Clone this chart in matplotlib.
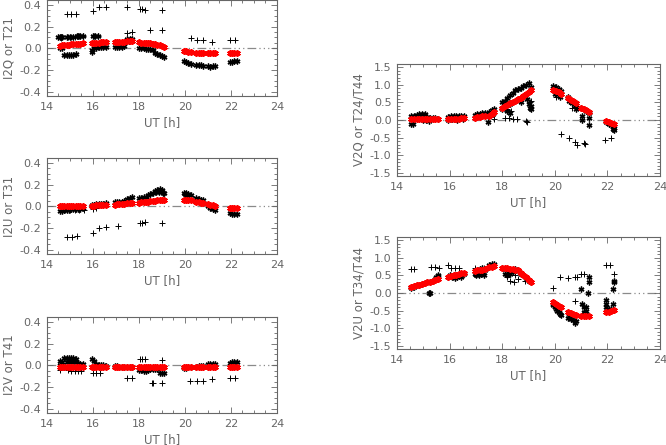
import matplotlib
matplotlib.use("Agg")
import matplotlib.pyplot as plt
from matplotlib.ticker import MultipleLocator, FormatStrFormatter

# ---------------- data ----------------
ut = [14.55, 14.65, 14.75, 14.85, 14.95, 15.05, 15.15, 15.25, 15.35, 15.45, 15.55,
      15.95, 16.05, 16.15, 16.25, 16.35, 16.45, 16.55,
      16.95, 17.05, 17.15, 17.25, 17.35,
      17.5, 17.6, 17.7,
      18.0, 18.1, 18.2, 18.3, 18.4, 18.5, 18.6,
      18.7, 18.8, 18.9, 19.0, 19.1,
      19.95, 20.05, 20.15, 20.25,
      20.5, 20.6, 20.7, 20.8,
      21.0, 21.1, 21.2, 21.3,
      21.95, 22.05, 22.15, 22.25]

# I2Q / T21
i2q_model = [0.024, 0.026, 0.028, 0.031, 0.033, 0.035, 0.037, 0.039, 0.041, 0.043, 0.045,
             0.05, 0.051, 0.052, 0.053, 0.054, 0.054, 0.055,
             0.058, 0.059, 0.06, 0.06, 0.061,
             0.068, 0.07, 0.07,
             0.055, 0.053, 0.051, 0.049, 0.047, 0.045, 0.042,
             0.036, 0.031, 0.026, 0.02, 0.014,
             -0.025, -0.029, -0.033, -0.036,
             -0.044, -0.046, -0.047, -0.047,
             -0.047, -0.047, -0.046, -0.045,
             -0.042, -0.041, -0.04, -0.039]
i2q_obs = [0.0, 0.005, -0.06, -0.065, -0.062, -0.06, -0.058, -0.055, 0.11, 0.11, 0.11,
           -0.03, 0.0, 0.005, 0.008, 0.01, 0.01, 0.012,
           0.015, 0.015, 0.016, 0.016, 0.017,
           0.085, 0.09, 0.09,
           0.005, 0.0, 0.0, -0.005, -0.01, -0.01, -0.015,
           -0.045, -0.055, -0.065, -0.075, -0.08,
           -0.115, -0.125, -0.135, -0.145,
           -0.15, -0.155, -0.157, -0.16,
           -0.168, -0.17, -0.165, -0.16,
           -0.13, -0.125, -0.12, -0.115]
i2q_xtra_x = [14.5, 14.55, 14.6, 14.65, 14.85, 15.0, 15.15, 15.3, 16.0, 16.1, 16.2, 17.55, 17.65, 15.95]
i2q_xtra_y = [0.1, 0.1, 0.105, 0.1, 0.105, 0.105, 0.105, 0.11, 0.115, 0.115, 0.115, 0.07, 0.075, -0.02]
i2q_plus_x = [14.86, 15.04, 15.26, 15.99, 16.26, 16.57, 17.49, 18.04, 18.15, 18.26, 18.99,
              17.5, 17.68, 18.5, 19.01, 20.25, 20.54, 20.8, 21.17, 21.96, 22.19,
              14.6, 14.9, 15.05, 15.2, 15.4, 15.55, 16.05, 16.2]
i2q_plus_y = [0.32, 0.32, 0.32, 0.34, 0.38, 0.38, 0.38, 0.36, 0.36, 0.355, 0.35,
              0.145, 0.15, 0.165, 0.165, 0.095, 0.08, 0.08, 0.055, 0.075, 0.075,
              0.095, 0.105, 0.105, 0.105, 0.11, 0.11, 0.115, 0.115]

# I2U / T31
i2u_model = [0.0, 0.0, 0.0, 0.0, 0.0, 0.001, 0.001, 0.001, 0.002, 0.002, 0.002,
             0.004, 0.006, 0.008, 0.009, 0.01, 0.011, 0.012,
             0.016, 0.017, 0.018, 0.019, 0.02,
             0.026, 0.027, 0.028,
             0.034, 0.036, 0.038, 0.04, 0.042, 0.044, 0.046,
             0.052, 0.055, 0.058, 0.06, 0.06,
             0.06, 0.058, 0.056, 0.054,
             0.042, 0.038, 0.034, 0.03,
             0.02, 0.014, 0.008, 0.003,
             -0.012, -0.013, -0.014, -0.015]
i2u_obs = [-0.045, -0.045, -0.035, -0.03, -0.03, -0.028, -0.028, -0.025, -0.025, -0.022, -0.02,
           0.01, 0.015, 0.018, 0.02, 0.022, 0.025, 0.028,
           0.035, 0.038, 0.04, 0.042, 0.045,
           0.07, 0.08, 0.088,
           0.075, 0.08, 0.085, 0.09, 0.1, 0.11, 0.125,
           0.14, 0.15, 0.155, 0.15, 0.125,
           0.125, 0.118, 0.11, 0.1,
           0.075, 0.07, 0.062, 0.055,
           0.0, -0.012, -0.025, -0.035,
           -0.065, -0.068, -0.07, -0.072]
i2u_xtra_x = [18.75, 18.85, 18.95, 19.05, 20.0, 20.1]
i2u_xtra_y = [0.13, 0.135, 0.14, 0.12, 0.11, 0.105]
i2u_plus_x = [14.86, 15.07, 15.29, 15.99, 16.26, 16.57, 17.1, 18.04, 18.15, 18.26, 18.99,
              14.8, 15.0, 15.2, 15.4, 15.6, 16.0, 16.15]
i2u_plus_y = [-0.28, -0.28, -0.275, -0.25, -0.2, -0.195, -0.185, -0.15, -0.15, -0.145, -0.15,
              -0.035, -0.035, -0.035, -0.03, -0.03, -0.025, -0.02]

# I2V / T41
i2v_model = [-0.015, -0.015, -0.016, -0.016, -0.016, -0.016, -0.017, -0.017, -0.017, -0.017, -0.017,
             -0.017, -0.017, -0.017, -0.017, -0.017, -0.017, -0.017,
             -0.018, -0.018, -0.018, -0.018, -0.018,
             -0.018, -0.018, -0.018,
             -0.018, -0.018, -0.018, -0.018, -0.018, -0.018, -0.018,
             -0.018, -0.018, -0.018, -0.018, -0.018,
             -0.018, -0.018, -0.018, -0.018,
             -0.018, -0.018, -0.018, -0.018,
             -0.017, -0.017, -0.017, -0.017,
             -0.016, -0.016, -0.016, -0.016]
i2v_obs = [0.035, 0.03, 0.065, 0.07, 0.07, 0.068, 0.065, 0.06, 0.02, 0.015, 0.01,
           0.055, 0.04, 0.01, 0.005, 0.0, 0.0, -0.005,
           -0.01, -0.01, -0.012, -0.012, -0.012,
           -0.015, -0.015, -0.015,
           -0.045, -0.048, -0.05, -0.05, -0.045, -0.03, -0.03,
           -0.03, -0.035, -0.07, -0.075, -0.075,
           -0.025, -0.022, -0.02, -0.02,
           -0.012, -0.01, -0.01, -0.01,
           0.012, 0.015, 0.015, 0.012,
           0.025, 0.03, 0.03, 0.028]
i2v_xtra_x = [14.55, 14.65, 14.85, 14.95, 15.05, 15.15, 15.25]
i2v_xtra_y = [0.0, 0.0, 0.03, 0.035, 0.03, 0.035, 0.03]
i2v_plus_x = [14.55, 14.9, 15.05, 15.2, 15.35, 15.5, 16.0, 16.15, 16.3, 17.46, 17.68,
              18.05, 18.15, 18.25, 18.55, 18.62, 18.99, 18.99, 20.22, 20.54, 20.8,
              21.17, 21.96, 22.19]
i2v_plus_y = [-0.045, -0.045, -0.05, -0.05, -0.05, -0.05, -0.07, -0.07, -0.07, -0.12, -0.12,
              0.055, 0.055, 0.055, -0.16, -0.16, 0.05, -0.165, -0.145, -0.145, -0.145,
              -0.13, -0.12, -0.115]

# V2Q / T24/T44
v2q_model = [0.02, 0.025, 0.03, 0.03, 0.03, 0.03, 0.03, 0.025, 0.025, 0.02, 0.02,
             0.02, 0.025, 0.03, 0.035, 0.04, 0.045, 0.05,
             0.07, 0.08, 0.09, 0.1, 0.11,
             0.1, 0.17, 0.24,
             0.35, 0.39, 0.43, 0.47, 0.51, 0.55, 0.59,
             0.63, 0.69, 0.75, 0.8, 0.84,
             0.86, 0.83, 0.79, 0.75,
             0.62, 0.58, 0.54, 0.49,
             0.34, 0.31, 0.27, 0.22,
             -0.04, -0.06, -0.08, -0.1]
v2q_obs = [0.1, 0.11, 0.15, 0.17, 0.17, 0.16, 0.08, 0.07, 0.06, 0.05, 0.04,
           0.08, 0.1, 0.1, 0.11, 0.11, 0.12, 0.12,
           0.15, 0.16, 0.18, 0.2, 0.21,
           0.22, 0.28, 0.3,
           0.5, 0.55, 0.62, 0.7, 0.78, 0.85, 0.88,
           0.92, 0.97, 1.0, 1.05, 0.95,
           0.97, 0.93, 0.88, 0.82,
           0.65, 0.58, 0.5, 0.42,
           0.33, 0.3, 0.26, 0.2,
           -0.06, -0.1, -0.15, -0.22]
v2q_xtra_x = [14.55, 14.6, 15.0, 15.1, 15.2, 15.95, 16.1, 16.3, 16.5, 17.45, 17.65,
              18.0, 18.1, 18.2, 18.3, 18.3, 18.6, 18.7, 18.95, 19.0, 19.05, 19.1, 19.1,
              20.0, 20.2, 20.55, 20.65, 20.75, 20.8, 21.05, 21.05, 21.3, 21.3, 22.2, 22.25]
v2q_xtra_y = [-0.1, -0.1, 0.0, 0.0, -0.02, 0.0, 0.02, 0.0, 0.02, -0.05, 0.18,
              0.3, 0.35, 0.25, 0.45, 0.2, 0.6, 0.5, 0.6, 0.45, 0.35, 0.4, 0.3,
              0.75, 0.65, 0.55, 0.48, 0.4, 0.3, 0.1, 0.0, 0.05, -0.13, -0.25, -0.27]
v2q_plus_x = [17.7, 18.1, 18.25, 18.4, 18.55, 18.9, 18.95, 20.25, 20.55, 20.75, 20.85,
              21.1, 21.15, 21.9, 22.15, 18.2, 18.35, 19.05, 19.1, 20.05, 20.65]
v2q_plus_y = [0.04, 0.05, 0.05, 0.04, 0.03, -0.03, -0.05, -0.4, -0.52, -0.62, -0.7,
              -0.66, -0.68, -0.56, -0.5, 0.3, 0.25, 0.5, 0.55, 0.65, 0.35]

# V2U / T34/T44
v2u_model = [0.18, 0.2, 0.22, 0.24, 0.26, 0.28, 0.3, 0.32, 0.34, 0.37, 0.4,
             0.46, 0.48, 0.5, 0.52, 0.54, 0.56, 0.58,
             0.63, 0.64, 0.65, 0.66, 0.67,
             0.73, 0.75, 0.76,
             0.72, 0.71, 0.7, 0.69, 0.67, 0.66, 0.64,
             0.58, 0.52, 0.45, 0.38, 0.31,
             -0.25, -0.3, -0.36, -0.41,
             -0.55, -0.57, -0.6, -0.62,
             -0.65, -0.65, -0.65, -0.65,
             -0.55, -0.53, -0.51, -0.49]
v2u_obs = [0.15, 0.17, 0.22, 0.24, 0.25, 0.27, 0.3, 0.32, 0.35, 0.4, 0.5,
           0.45, 0.47, 0.5, 0.52, 0.5, 0.52, 0.55,
           0.55, 0.6, 0.68, 0.7, 0.65,
           0.8, 0.83, 0.82,
           0.7, 0.68, 0.65, 0.62, 0.6, 0.68, 0.62,
           0.55, 0.5, 0.42, 0.35, 0.3,
           -0.35, -0.45, -0.55, -0.62,
           -0.7, -0.75, -0.78, -0.8,
           0.1, -0.55, -0.5, 0.3,
           -0.3, -0.45, -0.45, 0.3]
v2u_xtra_x = [15.23, 15.25, 15.5, 15.55, 16.0, 16.1, 16.2, 16.3, 16.45, 17.0, 17.1, 17.2, 17.3,
              18.1, 18.2, 18.3, 19.95, 20.0, 20.1, 20.2, 20.55, 20.65, 20.75,
              21.05, 21.1, 21.1, 21.15, 21.2, 21.25, 21.3,
              21.95, 21.95, 22.0, 22.1, 22.2, 22.2, 22.25]
v2u_xtra_y = [0.0, 0.0, 0.45, 0.48, 0.5, 0.45, 0.42, 0.45, 0.45, 0.5, 0.52, 0.55, 0.5,
              0.55, 0.52, 0.55, -0.3, -0.4, -0.5, -0.6, -0.65, -0.72, -0.85,
              -0.3, -0.4, -0.6, -0.6, -0.4, 0.0, 0.45,
              -0.2, -0.4, -0.5, -0.5, -0.3, 0.1, 0.35]
v2u_plus_x = [14.55, 14.65, 15.3, 15.45, 15.6, 15.95, 16.05, 16.2, 16.35, 16.95, 17.3,
              18.3, 18.45, 18.6, 18.85, 19.95, 20.2, 20.5, 20.75, 20.85, 20.75,
              21.0, 21.1, 21.95, 22.1, 22.25, 18.2, 18.5]
v2u_plus_y = [0.68, 0.68, 0.73, 0.73, 0.72, 0.79, 0.72, 0.7, 0.7, 0.72, 0.72,
              0.35, 0.3, 0.4, 0.35, 0.15, 0.46, 0.42, 0.45, 0.46, -0.22,
              0.55, 0.55, 0.8, 0.8, 0.55, 0.45, 0.5]

left_labels = ["I2Q or T21", "I2U or T31", "I2V or T41"]
right_labels = ["V2Q or T24/T44", "V2U or T34/T44"]
x_ticks = [14, 16, 18, 20, 22, 24]

# ---------------- figure ----------------
W, H = 666, 445
plt.rcParams["font.family"] = ["DejaVu Sans"]
fig = plt.figure(figsize=(W / 100, H / 100), dpi=100)
GRAY = "#666666"


def rect(left_px, top_px, right_px, bottom_px):
    return [left_px / W, 1 - bottom_px / H, (right_px - left_px) / W, (bottom_px - top_px) / H]


def panel(r, ylim, ymaj, ymin, ylab, model, obs, xx, xy, px, py):
    ax = fig.add_axes(r)
    ax.set_xlim(14, 24)
    ax.set_ylim(*ylim)
    ax.plot([14, 24], [0, 0], color="#8a8a8a", lw=0.9,
            dashes=(7, 2.5, 1, 2.5, 1, 2.5, 1, 2.5), zorder=1)
    ast = (6, 2, 0)
    ax.plot(px, py, ls="none", marker="+", ms=4.5, mew=0.7, color="black", zorder=2)
    ax.plot(ut, obs, ls="none", marker=ast, ms=4.2, mew=1.0, color="black", zorder=3)
    ax.plot(xx, xy, ls="none", marker=ast, ms=4.2, mew=1.0, color="black", zorder=3)
    ax.plot(ut, model, ls="none", marker=ast, ms=4.6, mew=1.3, color="#ff0000", zorder=4)
    ax.set_xticks(x_ticks)
    ax.xaxis.set_minor_locator(MultipleLocator(0.5))
    ax.yaxis.set_major_locator(MultipleLocator(ymaj))
    ax.yaxis.set_minor_locator(MultipleLocator(ymin))
    ax.yaxis.set_major_formatter(FormatStrFormatter("%.1f"))
    ax.tick_params(which="both", direction="in", top=True, right=True,
                   color=GRAY, labelcolor=GRAY, labelsize=8, width=0.6)
    ax.tick_params(which="major", length=4, pad=4)
    ax.tick_params(which="minor", length=2)
    for s in ax.spines.values():
        s.set_color(GRAY)
        s.set_linewidth(0.8)
    ax.set_xlabel("UT [h]", color=GRAY, fontsize=8.5, labelpad=3)
    ax.set_ylabel(ylab, color=GRAY, fontsize=8.5, labelpad=3)
    return ax


lylim = (-0.44, 0.445)
panel(rect(47, 0, 277, 96), lylim, 0.2, 0.05, left_labels[0],
      i2q_model, i2q_obs, i2q_xtra_x, i2q_xtra_y, i2q_plus_x, i2q_plus_y)
panel(rect(47, 158, 277, 254), lylim, 0.2, 0.05, left_labels[1],
      i2u_model, i2u_obs, i2u_xtra_x, i2u_xtra_y, i2u_plus_x, i2u_plus_y)
panel(rect(47, 317, 277, 413), lylim, 0.2, 0.05, left_labels[2],
      i2v_model, i2v_obs, i2v_xtra_x, i2v_xtra_y, i2v_plus_x, i2v_plus_y)

rylim = (-1.59, 1.59)
panel(rect(397, 64, 660, 176), rylim, 0.5, 0.1, right_labels[0],
      v2q_model, v2q_obs, v2q_xtra_x, v2q_xtra_y, v2q_plus_x, v2q_plus_y)
panel(rect(397, 237, 660, 349), rylim, 0.5, 0.1, right_labels[1],
      v2u_model, v2u_obs, v2u_xtra_x, v2u_xtra_y, v2u_plus_x, v2u_plus_y)

fig.savefig("out.png", dpi=100)
